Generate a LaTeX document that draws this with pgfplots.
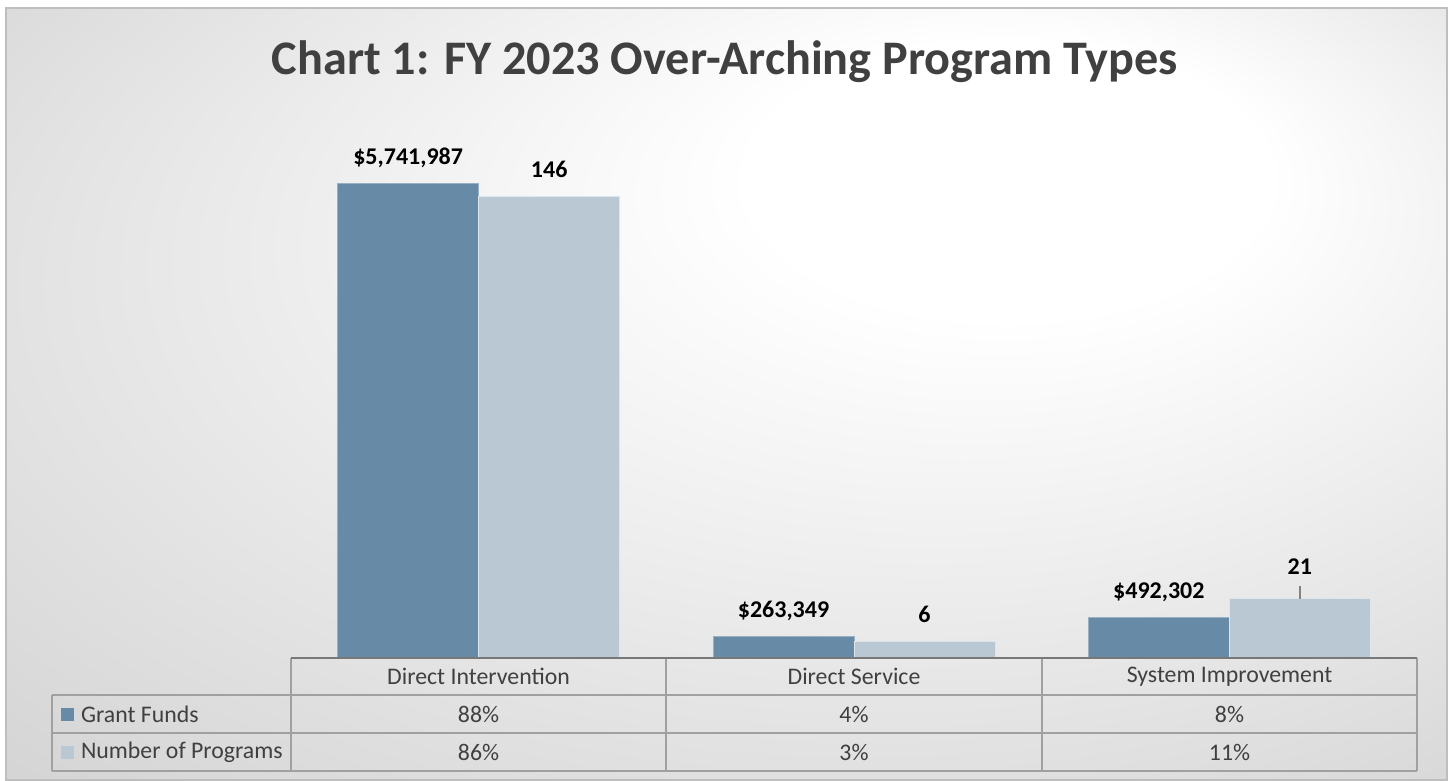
\documentclass[border=0pt]{standalone}
\usepackage{pgfplots}
\pgfplotsset{compat=1.18}
\usepackage{fontspec}
\setmainfont{Carlito}
\definecolor{darkbar}{RGB}{103,139,166}
\definecolor{lightbar}{RGB}{186,200,211}
\definecolor{txt}{RGB}{64,64,64}
\definecolor{gridc}{RGB}{160,160,160}
\definecolor{leader}{RGB}{130,130,130}
\definecolor{bgout}{RGB}{198,198,198}
\pgfdeclareradialshading{bgshade}{\pgfpoint{12bp}{17bp}}{color(0bp)=(white); color(9bp)=(white); color(50bp)=(bgout)}
\begin{document}
\begin{tikzpicture}
\useasboundingbox (0,0) rectangle (725pt,390.5pt);
\begin{scope}[x=0.5pt,y=-0.5pt,shift={(0pt,390.5pt)}]
  \shade[shading=bgshade] (6,8) rectangle (1447,780);
  \draw[color={rgb,255:red,190;green,190;blue,190},line width=0.8pt] (6,8) rectangle (1447,780);
  \node[anchor=base,font=\bfseries\fontsize{24.1}{29}\selectfont,text=txt] at (725,75) {Chart 1: FY 2023 Over-Arching Program Types};
\end{scope}
\begin{axis}[
  at={(145.5pt,61.5pt)}, anchor=south west,
  scale only axis, width=563pt, height=268.5pt,
  xmin=-0.5, xmax=2.5, ymin=0, ymax=100,
  axis lines=none, clip=false,
  ybar=0pt, bar width=70.5pt,
  point meta=explicit symbolic,
  nodes near coords,
  every node near coord/.append style={anchor=base, yshift=9.5pt, font=\bfseries\fontsize{12}{14}\selectfont, text=black},
]
\addplot[fill=darkbar, draw={rgb,255:red,150;green,176;blue,196}, line width=0.5pt]
  coordinates {(0,88.37) [{\$5,741,987}] (1,4.05) [{\$263,349}] (2,7.58) [{\$492,302}]};
\addplot[fill=lightbar, draw={rgb,255:red,222;green,230;blue,236}, line width=0.5pt]
  coordinates {(0,86) [{146}] (1,3) [{6}] (2,11) [{\raisebox{2.5pt}{21\llap{\makebox[1.014em]{\smash{\raisebox{-12pt}{\color{leader}\rule{0.7pt}{6.5pt}}}}}}}]};
\end{axis}
\begin{scope}[x=0.5pt,y=-0.5pt,shift={(0pt,390.5pt)}]
  \draw[gridc, line width=0.8pt] (52,695) -- (1417,695);
  \draw[gridc, line width=0.8pt] (52,733) -- (1417,733);
  \draw[gridc, line width=0.8pt] (52,771) -- (1417,771);
  \draw[gridc, line width=0.8pt] (52,695) -- (52,771);
  \draw[gridc, line width=0.8pt] (291,658) -- (291,771);
  \draw[gridc, line width=0.8pt] (666,658) -- (666,771);
  \draw[gridc, line width=0.8pt] (1042,658) -- (1042,771);
  \draw[gridc, line width=0.8pt] (1417,658) -- (1417,771);
  \draw[color={rgb,255:red,120;green,120;blue,120}, line width=1pt] (291,658) -- (1417,658);
  \begin{scope}[every node/.style={font=\fontsize{11.9}{14}\selectfont, text=txt}]
    \node at (478.5,676.5) {Direct Intervention};
    \node at (854,676.5) {Direct Service};
    \node at (1229.5,676.5) {System Improvement};
    \node at (478.5,714) {88\%};
    \node at (854,714) {4\%};
    \node at (1229.5,714) {8\%};
    \node at (478.5,752) {86\%};
    \node at (854,752) {3\%};
    \node at (1229.5,752) {11\%};
    \node[anchor=west] at (74,714) {Grant Funds};
    \node[anchor=west] at (74,752) {Number of Programs};
  \end{scope}
  \fill[darkbar] (61,708) rectangle (74,721);
  \fill[lightbar] (61,746) rectangle (74,759);
\end{scope}
\end{tikzpicture}
\end{document}
